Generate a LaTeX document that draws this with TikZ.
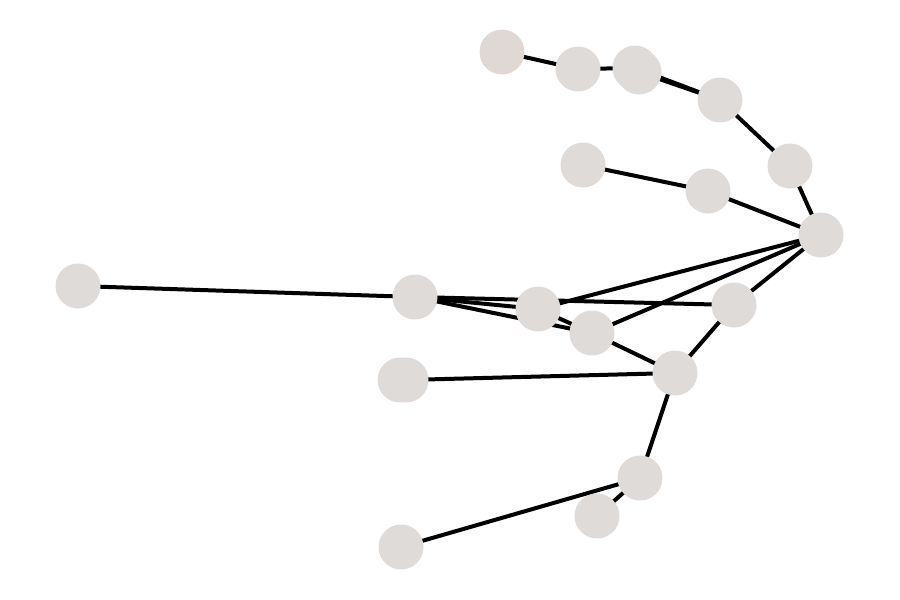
\documentclass[tikz,border=0pt]{standalone}
\usetikzlibrary{backgrounds}
\definecolor{nodefill}{HTML}{DFDBD9}
\definecolor{nodefillb}{HTML}{E0D8D5}
\tikzset{
  vert/.style={circle, fill=nodefill, draw=none, minimum size=45pt, inner sep=0pt},
  vertb/.style={vert, fill=nodefillb},
  edge/.style={line width=4pt, black},
}
\begin{document}
\begin{tikzpicture}[x=1pt,y=-1pt]
\useasboundingbox (0,0) rectangle (900,600);
\node[vertb] (A) at (502,52) {};
\node[vert] (B) at (578,69) {};
\node[vert] (C2) at (639,72) {};
\node[vert] (C1) at (635,68) {};
\node[vert] (D) at (720,100) {};
\node[vert] (E) at (790,166) {};
\node[vert] (F) at (821,235) {};
\node[vert] (G) at (583,165) {};
\node[vert] (H) at (708,191) {};
\node[vert] (I) at (78,286) {};
\node[vert] (J) at (415,297) {};
\node[vert] (M) at (734,305) {};
\node[vert] (K) at (538,309) {};
\node[vert] (L) at (592,333) {};
\node[vert] (N) at (675,373) {};
\node[vert] (O2) at (406,380) {};
\node[vert] (O1) at (400,380) {};
\node[vert] (P) at (640,478) {};
\node[vert] (Q) at (597,516) {};
\node[vert] (R) at (401,547) {};
\begin{scope}[on background layer]
\draw[edge] (A.center) -- (B.center);
\draw[edge] (B.center) -- (C1.center);
\draw[edge] (C1.center) -- (D.center);
\draw[edge] (C2.center) -- (D.center);
\draw[edge] (D.center) -- (E.center);
\draw[edge] (E.center) -- (F.center);
\draw[edge] (G.center) -- (H.center);
\draw[edge] (H.center) -- (F.center);
\draw[edge] (F.center) -- (K.center);
\draw[edge] (F.center) -- (L.center);
\draw[edge] (F.center) -- (M.center);
\draw[edge] (I.center) -- (J.center);
\draw[edge] (J.center) -- (K.center);
\draw[edge] (J.center) -- (L.center);
\draw[edge] (J.center) -- (M.center);
\draw[edge] (K.center) -- (L.center);
\draw[edge] (L.center) -- (N.center);
\draw[edge] (M.center) -- (N.center);
\draw[edge] (N.center) -- (O2.center);
\draw[edge] (N.center) -- (P.center);
\draw[edge] (P.center) -- (Q.center);
\draw[edge] (P.center) -- (R.center);
\end{scope}
\end{tikzpicture}
\end{document}
